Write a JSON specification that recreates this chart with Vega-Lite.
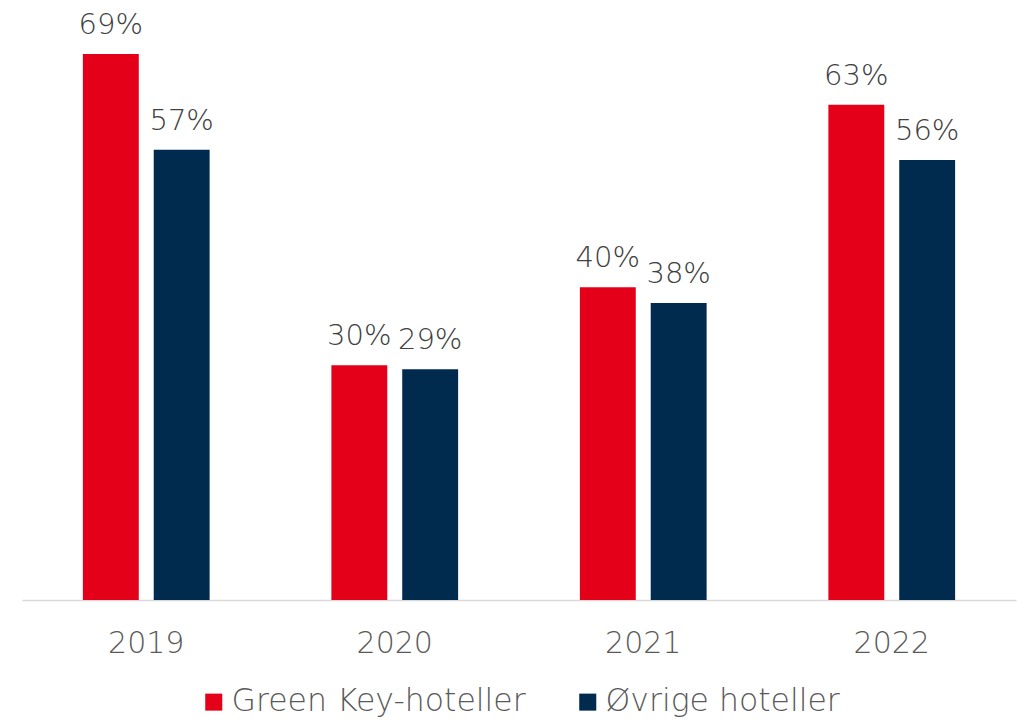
{
  "$schema": "https://vega.github.io/schema/vega-lite/v6.json",
  "width": 994,
  "height": 600,
  "autosize": {"type": "none"},
  "padding": {"left": 22, "top": 0, "right": 2, "bottom": 121},
  "background": "white",
  "config": {"view": {"stroke": null}, "font": "DejaVu Sans"},
  "data": {
    "values": [
      {"year": "2019", "series": "Green Key-hoteller", "value": 0.691},
      {"year": "2019", "series": "Øvrige hoteller", "value": 0.570},
      {"year": "2020", "series": "Green Key-hoteller", "value": 0.297},
      {"year": "2020", "series": "Øvrige hoteller", "value": 0.292},
      {"year": "2021", "series": "Green Key-hoteller", "value": 0.396},
      {"year": "2021", "series": "Øvrige hoteller", "value": 0.376},
      {"year": "2022", "series": "Green Key-hoteller", "value": 0.627},
      {"year": "2022", "series": "Øvrige hoteller", "value": 0.557}
    ]
  },
  "encoding": {
    "x": {
      "field": "year", "type": "nominal",
      "scale": {"paddingInner": 0.49, "paddingOuter": 0.245},
      "axis": {
        "title": null, "labelAngle": 0, "ticks": false, "domainColor": "#d9d9d9", "domainWidth": 1.5,
        "labelFontSize": 30, "labelFontWeight": 300, "labelColor": "#595959", "labelBaseline": "alphabetic", "labelPadding": 52, "grid": false
      }
    },
    "xOffset": {
      "field": "series", "type": "nominal",
      "scale": {"paddingInner": 0.211, "paddingOuter": 0}
    },
    "y": {
      "field": "value", "type": "quantitative",
      "scale": {"domain": [0, 0.7595]},
      "axis": null
    }
  },
  "layer": [
    {
      "mark": {"type": "bar"},
      "encoding": {
        "color": {
          "field": "series", "type": "nominal",
          "scale": {"domain": ["Green Key-hoteller", "Øvrige hoteller"], "range": ["#E50019", "#012A4F"]},
          "legend": {
            "title": null, "orient": "none", "direction": "horizontal", "legendX": 176, "legendY": 686,
            "padding": 0, "symbolType": "square", "symbolSize": 290, "symbolStrokeWidth": 0,
            "labelFontSize": 31.5, "labelFontWeight": 300, "labelLimit": 500, "labelColor": "#595959", "columnPadding": 46, "labelOffset": 2
          }
        }
      }
    },
    {
      "mark": {"type": "text", "baseline": "alphabetic", "dy": -20, "fontSize": 29, "fontWeight": 300, "color": "#404040"},
      "encoding": {
        "text": {"field": "value", "type": "quantitative", "format": ".0%"}
      }
    }
  ]
}
